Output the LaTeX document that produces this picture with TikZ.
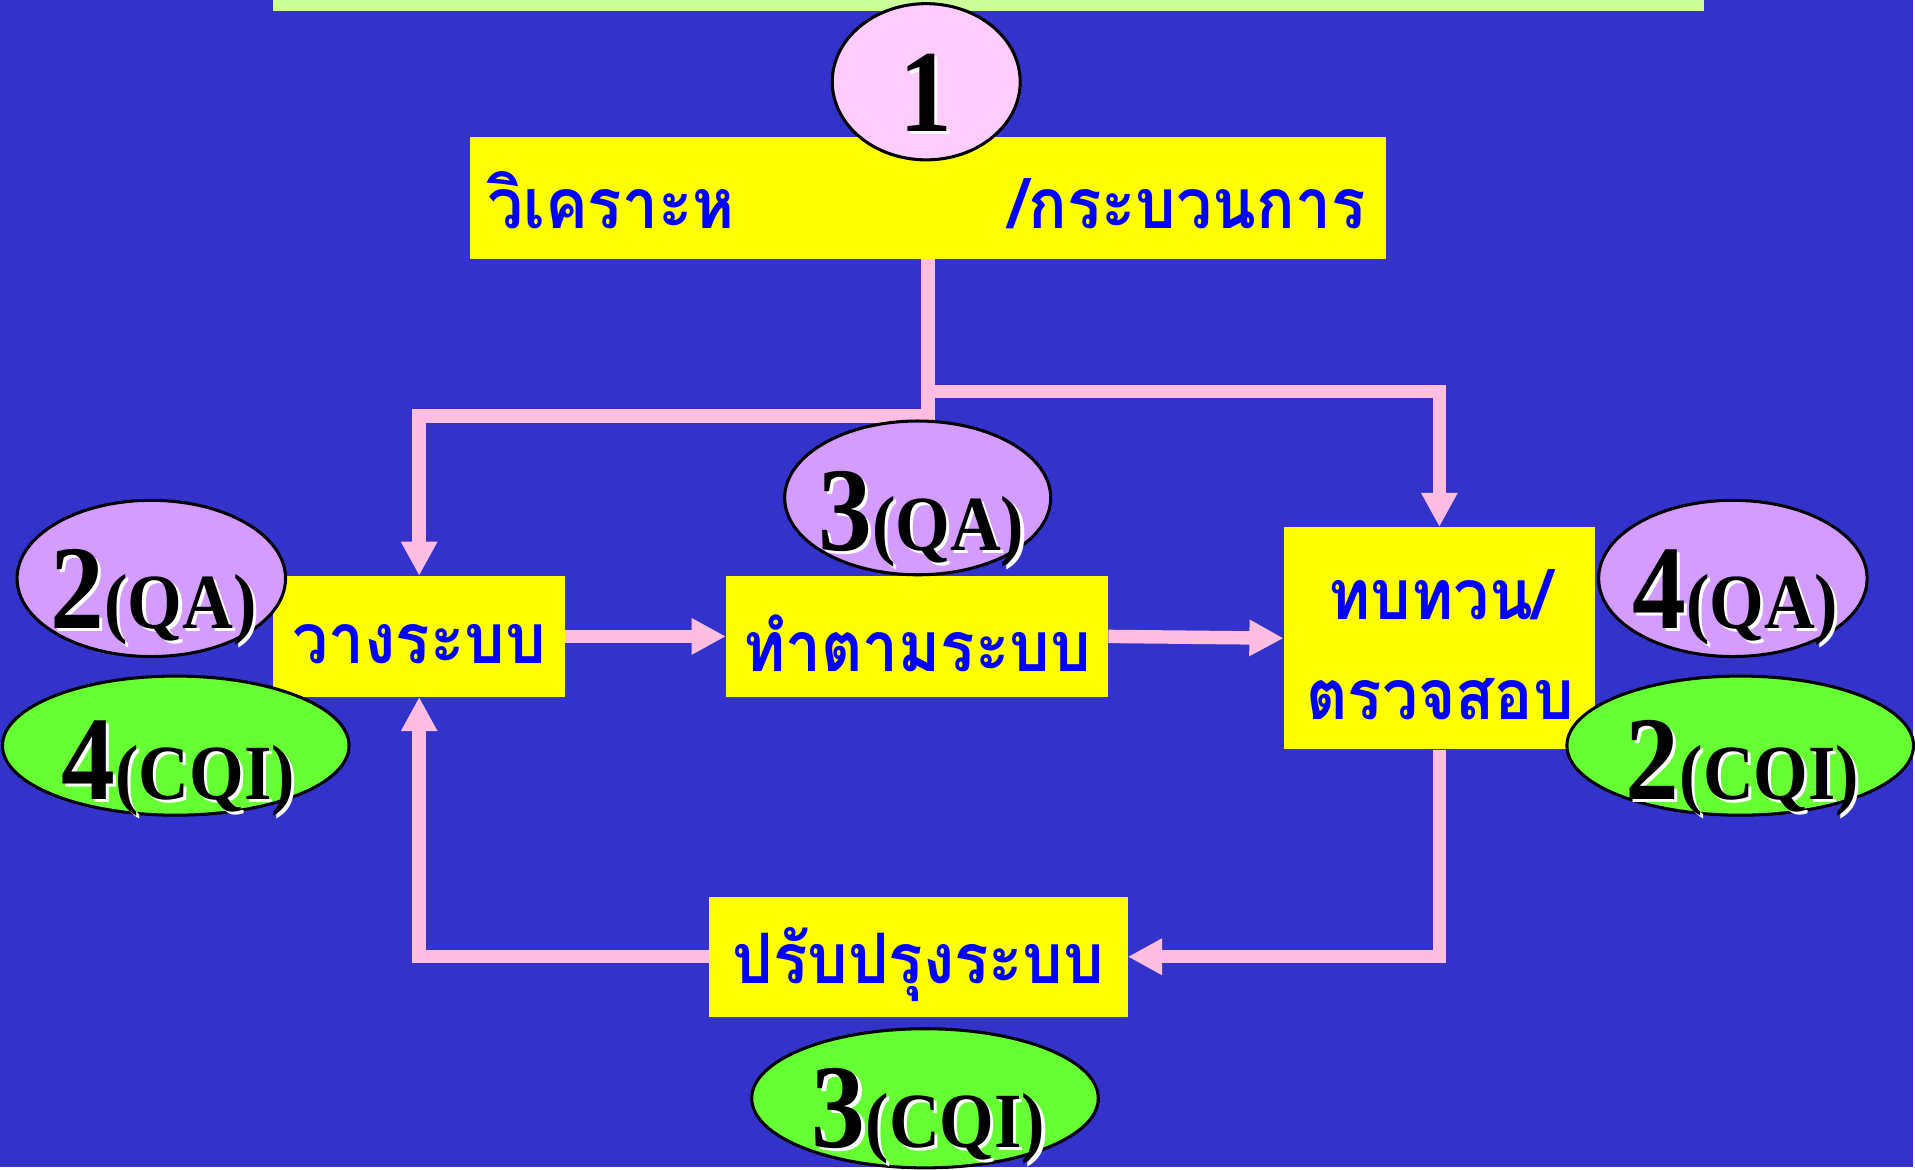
\documentclass[tikz,border=0pt]{standalone}
\usepackage{fontspec}
\setmainfont{Liberation Serif}
\newfontfamily\numfont[FakeStretch=0.9]{Liberation Serif}
\newfontfamily\thaifont[Script=Thai, FakeStretch=0.92]{Loma}
\usetikzlibrary{arrows.meta,shapes.geometric}
\definecolor{bgblue}{RGB}{51,51,204}
\definecolor{topbar}{RGB}{204,255,153}
\definecolor{boxyellow}{RGB}{255,255,0}
\definecolor{thaiblue}{RGB}{0,0,255}
\definecolor{linkpink}{RGB}{255,190,225}
\definecolor{pinkfill}{RGB}{255,204,255}
\definecolor{lavender}{RGB}{212,156,255}
\definecolor{limegreen}{RGB}{102,255,51}
\newcommand\elabel[5]{%
  \node[text=white, anchor=base, inner sep=0pt] (#1s) at (#2+2.5,#3+2.5) {\numfont{\fontsize{98}{98}\selectfont\bfseries #4}{\fontsize{64}{64}\selectfont\bfseries #5}};
  \node[text=black, anchor=base, inner sep=0pt] (#1) at (#2,#3) {\numfont{\fontsize{98}{98}\selectfont\bfseries #4}{\fontsize{64}{64}\selectfont\bfseries #5}};}
\begin{document}
\begin{tikzpicture}[x=1pt,y=-1pt,
  stepbox/.style={fill=boxyellow, draw=none, inner sep=0pt, text=thaiblue,
    font=\thaifont\bfseries\fontsize{57}{82}\selectfont, align=center},
  thaitext/.style={text=thaiblue, inner sep=0pt,
    font=\thaifont\bfseries\fontsize{57}{82}\selectfont, align=center},
  link/.style={draw=linkpink, line width=11pt},
  arr/.style={link, -{Triangle[length=28pt,width=28pt]}},
  oval/.style={ellipse, draw=black, line width=2.5pt, inner sep=0pt}]
\fill[bgblue] (0,0) rectangle (1568,956);
\fill[topbar] (224,0) rectangle (1396,9);
% boxes
\node[stepbox, minimum width=751pt, minimum height=100pt] (top) at (760.5,162) {};
\node[thaitext, anchor=base west] (topL) at (399,187) {วิเคราะห};
\node[thaitext, anchor=base east] (topR) at (1119,187) {/กระบวนการ};
\node[stepbox, minimum width=239pt, minimum height=99pt] (plan) at (343.5,521.5) {};
\node[thaitext] (planT) at (343.5,528) {วางระบบ};
\node[stepbox, minimum width=313pt, minimum height=99pt] (do) at (751.5,521.5) {};
\node[thaitext] (doT) at (751.5,527) {ทำตามระบบ};
\node[stepbox, minimum width=255pt, minimum height=182pt] (check) at (1179.5,523) {};
\node[thaitext] (checkT) at (1180,528) {ทบทวน/\\ตรวจสอบ};
\node[stepbox, minimum width=343pt, minimum height=98pt] (improve) at (752.5,784) {};
\node[thaitext] (improveT) at (752.5,790) {ปรับปรุงระบบ};
% connectors
\coordinate (jL) at (760.5,341);
\coordinate (jR) at (760.5,321);
\draw[arr] (top.south) -- (jL) -| (plan.north);
\draw[arr] (jR) -| (check.north);
\draw[arr] (plan.east) -- (do.west);
\draw[arr] (do.east) -- (check.west);
\draw[arr] (check.south) |- (improve.east);
\draw[arr] (improve.west) -| (plan.south);
% ellipses
\node[oval, fill=pinkfill, minimum width=154pt, minimum height=128pt] (e1) at (759,67) {};
\node[text=white, anchor=base, inner sep=0pt] (n1s) at (761.5,110.5) {\numfont\fontsize{96}{96}\selectfont\bfseries 1};
\node[text=black, anchor=base, inner sep=0pt] (n1) at (759,108) {\numfont\fontsize{96}{96}\selectfont\bfseries 1};
\node[oval, fill=lavender, minimum width=218pt, minimum height=126pt] (e3qa) at (752,408) {};
\elabel{t3qa}{755}{451}{3}{(QA)}
\node[oval, fill=lavender, minimum width=220pt, minimum height=128pt] (e2qa) at (124,474) {};
\elabel{t2qa}{126}{515}{2}{(QA)}
\node[oval, fill=limegreen, minimum width=284pt, minimum height=114pt] (e4cqi) at (144,611) {};
\elabel{t4cqi}{146}{655}{4}{(CQI)}
\node[oval, fill=lavender, minimum width=220pt, minimum height=128pt] (e4qa) at (1420,474) {};
\elabel{t4qa}{1422}{515}{4}{(QA)}
\node[oval, fill=limegreen, minimum width=284pt, minimum height=114pt] (e2cqi) at (1426,611) {};
\elabel{t2cqi}{1428}{655}{2}{(CQI)}
\node[oval, fill=limegreen, minimum width=284pt, minimum height=114pt] (e3cqi) at (758,900) {};
\elabel{t3cqi}{761}{940}{3}{(CQI)}
\end{tikzpicture}
\end{document}
